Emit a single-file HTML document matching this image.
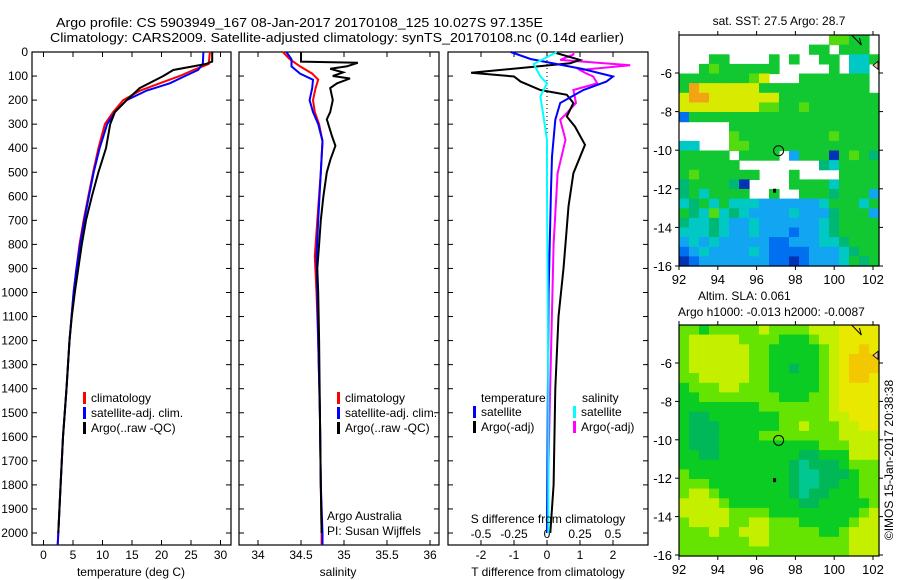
<!DOCTYPE html>
<html><head><meta charset="utf-8"><style>
html,body{margin:0;padding:0;background:#fff;}
svg{display:block;font-family:"Liberation Sans",sans-serif;}
text{font-size:12px;fill:#000;}
</style></head><body>
<svg id="c" width="900" height="580" viewBox="0 0 900 580">
<text x="56" y="27" textLength="487" lengthAdjust="spacingAndGlyphs" style="font-size:13px">Argo profile: CS 5903949_167 08-Jan-2017 20170108_125 10.027S 97.135E</text>
<text x="50" y="42" textLength="574" lengthAdjust="spacingAndGlyphs" style="font-size:13px">Climatology: CARS2009. Satellite-adjusted climatology: synTS_20170108.nc (0.14d earlier)</text>
<g id="g"></g>
</svg>
<script>
// ---- data ----
const depthTicks=[0,100,200,300,400,500,600,700,800,900,1000,1100,1200,1300,1400,1500,1600,1700,1800,1900,2000];
const tempTicks=[0,5,10,15,20,25,30];
const salTicks=[34,34.5,35,35.5,36];
const tdTicks=[-2,-1,0,1,2];
const sdTicks=[-0.5,-0.25,0,0.25,0.5];
const lonTicks=[92,94,96,98,100,102];
const latTicks=[-6,-8,-10,-12,-14,-16];

const argoDepth=[0,40,50,75,100,150,200,250,300,400,500,600,700,800,900,1000,1100,1200,1400,1600,1800,2000];
const argoTemp=[28.6,28.6,27.5,22,20.3,16.3,14.1,12.1,11.3,10.6,9.3,8.2,7.2,6.5,5.9,5.3,4.8,4.4,3.9,3.3,2.9,2.5];
const climDepth=[0,50,75,100,130,160,200,250,300,400,500,600,700,800,900,1000,1200,1400,1600,1800,2000,2050];
const climTemp=[28.2,28,25.4,23.1,19.7,16.4,13.5,11.8,10.4,9.3,8.4,7.6,6.8,6.1,5.6,5.1,4.4,3.9,3.3,2.9,2.5,2.4];
const satTemp=[27.1,27,26.2,24,21.4,17.5,14.1,12.1,10.8,9.5,8.5,7.7,6.9,6.2,5.6,5.1,4.4,3.9,3.3,2.9,2.5,2.4];

const argoSalDepth=[0,40,45,60,70,85,100,110,130,150,200,250,280,350,390,450,500,600,700,800,900,1000,1200,1500,1800,2000];
const argoSal=[34.5,34.5,35.16,35.03,34.84,34.99,34.87,35.07,34.92,34.84,34.87,34.84,34.8,34.86,34.9,34.84,34.8,34.76,34.73,34.71,34.69,34.7,34.71,34.72,34.73,34.74];
const climSalDepth=[0,30,60,90,115,150,200,250,300,370,500,700,850,1000,1200,1500,1800,2000,2050];
const climSal=[34.29,34.37,34.49,34.63,34.7,34.67,34.64,34.66,34.71,34.75,34.73,34.69,34.66,34.68,34.7,34.72,34.73,34.74,34.74];
const satSal=[34.33,34.39,34.39,34.49,34.64,34.63,34.6,34.64,34.7,34.75,34.73,34.7,34.68,34.69,34.7,34.72,34.73,34.75,34.75];

const tdDepth=[0,5,33,47,86,102,123,158,178,212,268,310,386,504,642,767,900,1100,1400,1800,2000];
const tdArgo=[0.3,0.3,1.0,0.7,-2.3,-1.0,-0.8,-0.2,0.6,0.8,0.6,0.85,1.15,0.8,0.65,0.58,0.5,0.35,0.25,0.2,0.1];
const tdSatDepth=[0,29,71,102,123,158,212,282,435,573,1000,1500,2000];
const tdSat=[-1.1,-0.5,1.1,2.0,1.8,1.1,0.4,0.25,0.15,0.12,0.05,0.02,0];
const sdSatDepth=[0,50,102,130,185,254,365,600,1000,1500,2000];
const sdSat=[0.075,-0.1,-0.05,0,-0.05,-0.03,0,0,0.005,0.01,0.01];
const sdArgoDepth=[0,11,33,55,75,90,102,130,158,212,254,282,365,504,800,1500,2000];
const sdArgo=[0.2,0.2,0.1,0.63,0.25,0.3,0.35,0.38,0.2,0.22,0.15,0.1,0.14,0.08,0.05,0.02,0];

const sstRows=[
"               GGgg ",
"             gg ggg ",
"   gg    g g  gg ccg",
"  gGgggggg     g cc ",
"gggggggGy   ggggggg ",
"goyyyyyyggggggggggg ",
"yooyyyyyyygggggggggg",
"yyyyyyyyGGggGggggggg",
"Bggggggggggggggggggg",
"     ggggggggggggggg",
"     GgggggggggGgggg",
"cc   GGggggggggggggg",
"ggggg gggg bgggDgGgt",
"gggggg        tcgggg",
"gGgggggg   g    gggg",
"tggggtD    ggggcgggg",
"tgcgggg  g  gggtgggb",
"ctgcgcccbbbbbbcgggcg",
"gtcGctcbbbbcbbbtgggb",
"tcctcbbcbbbbbbctgggg",
"ccctcbbcbbbBbbctgggg",
"bcbcbbbbbBBbbbcctggg",
"BbcbbbbcbBBBBbbbctgg",
"DBbbbbbbbBBDBbbbcgtg"];
const slaRows=[
"GGgGGGGGyGGGGyyyYYYY",
"GyyyyyGGGGgggGyyYYYY",
"GyyyyyyGGgggggGyYYoY",
"GyyyyyyGGgggggGyYooo",
"GyyyyyyGGggtggGyYooo",
"GGyyyyyGGgggggGyYooY",
"gGGGyyGGGgggggGyYYYY",
"ggGGGGGGGGgggGGyYYYY",
"ggggggggGGGGGGGyYYYY",
"gttgggggggGGGGGyyYYY",
"gtttggggggGGyGGGyyYY",
"gtttggggGGGGGGGGyyyy",
"gtttggggggggggGGGyyy",
"ggttggggggggttgggyyy",
"gggggggggggtctttgGGG",
"GggggggggggtcctttgGG",
"GGGggggggggtccttggGG",
"GyyGgggggggtcttgggGG",
"yyyyGgggggggttgggggG",
"yyyyyGGGGgggggggggGy",
"GyyyyGGyyGGGgggggGyy",
"GGGyGGyyyGGGGGggGyyy",
"GGGGGGGyyGGGGGGGGyyy",
"GGGGGGGGGGGGGGGGGyyy"];
const sstCol={g:"#12c832",G:"#52dc10",y:"#d8ea00",o:"#f2a414",t:"#00b876",c:"#00c8c4",b:"#12a6f2",B:"#0070f0",D:"#0034b4"};
const slaCol={g:"#0acc22",G:"#64e400",y:"#c4f000",Y:"#e8e800",o:"#f2c800",t:"#00b858",c:"#00c890"};

// ---- helpers ----
const NS="http://www.w3.org/2000/svg";
const root=document.getElementById('g');
function mk(tag,at,parent){const e=document.createElementNS(NS,tag);for(const k in at)e.setAttribute(k,at[k]);(parent||root).appendChild(e);return e;}
function txt(x,y,s,anchor,extra){const e=mk('text',Object.assign({x:x,y:y,'text-anchor':anchor||'start'},extra||{}));e.textContent=s;return e;}

const top0=52, bot=545;
const yD=d=>top0+d*0.2405;
const P1={l:32,r:231}, P2={l:239,r:439}, P3={l:448,r:648};
const xT=t=>43.5+t*5.9;
const xS=s=>258+(s-34)*86;
const xTd=v=>547+v*33;
const xSd=v=>547+v*132;

function frame(P,name){
  const r=mk('rect',{x:P.l,y:top0,width:P.r-P.l,height:bot-top0,fill:'none',stroke:'#000','stroke-width':1.2});
  
  
  depthTicks.forEach(d=>{
    mk('line',{x1:P.l,x2:P.l+5,y1:yD(d),y2:yD(d),stroke:'#000'});
    mk('line',{x1:P.r,x2:P.r-5,y1:yD(d),y2:yD(d),stroke:'#000'});
  });
}
function xticks(ticks,fx,labels,y){
  ticks.forEach((t,i)=>{
    const x=fx(t);
    mk('line',{x1:x,x2:x,y1:bot,y2:bot-5,stroke:'#000'});
    mk('line',{x1:x,x2:x,y1:top0,y2:top0+5,stroke:'#000'});
    const e=txt(x,y,labels[i],'middle');
    
    
  });
}
function line(ds,vs,fx,color,name,w){
  const pts=ds.map((d,i)=>fx(vs[i]).toFixed(1)+','+yD(d).toFixed(1)).join(' ');
  const e=mk('polyline',{points:pts,fill:'none',stroke:color,'stroke-width':w||2,'stroke-linejoin':'miter'});
  
  
}

// depth labels
depthTicks.forEach(d=>{const e=txt(28,yD(d)+4,String(d),'end');
  
  });

// panel 1
frame(P1,'temperature-panel');
xticks(tempTicks,xT,tempTicks.map(String),559);
line(climDepth,climTemp,xT,'#f00','temp-climatology-line');
line(climDepth,satTemp,xT,'#00f','temp-satellite-line');
line(argoDepth,argoTemp,xT,'#000','temp-argo-line');
txt(131,576,'temperature (deg C)','middle');

// panel 2
frame(P2,'salinity-panel');
xticks(salTicks,xS,['34','34.5','35','35.5','36'],559);
line(climSalDepth,climSal,xS,'#f00','sal-climatology-line');
line(climSalDepth,satSal,xS,'#00f','sal-satellite-line');
line(argoSalDepth,argoSal,xS,'#000','sal-argo-line');
txt(338,576,'salinity','middle');
txt(327,520,'Argo Australia');
txt(327,535,'PI: Susan Wijffels');

// panel 3
frame(P3,'difference-panel');
xticks(tdTicks,xTd,tdTicks.map(String),559);
sdTicks.forEach(t=>{const e=txt(xSd(t),538,String(t).replace('-0.','-0.'),'middle');
  
  });
mk('line',{x1:547,x2:547,y1:top0,y2:yD(400),stroke:'#000','stroke-dasharray':'1,3'});
line(sdArgoDepth,sdArgo,xSd,'#f0f','s-diff-argo-line');
line(tdDepth,tdArgo,xTd,'#000','t-diff-argo-line');
line(tdSatDepth,tdSat,xTd,'#00f','t-diff-satellite-line');
line(sdSatDepth,sdSat,xSd,'#0ff','s-diff-satellite-line');
txt(548,523,'S difference from climatology','middle');
txt(548,576,'T difference from climatology','middle');

// legends
function leg(x,y,col,label,name){
  mk('rect',{x:x,y:y-10,width:3,height:12,fill:col});
  const e=txt(x+8,y,label);
  
  
}
[[83,'#f00','climatology'],[83,'#00f','satellite-adj. clim.'],[83,'#000','Argo(..raw -QC)']].forEach((a,i)=>leg(a[0],402+i*15,a[1],a[2],'legend-entry'));
[[337,'#f00','climatology'],[337,'#00f','satellite-adj. clim.'],[337,'#000','Argo(..raw -QC)']].forEach((a,i)=>leg(a[0],402+i*15,a[1],a[2],'legend-entry'));
txt(481,402,'temperature');
txt(582,402,'salinity');
leg(473,416,'#00f','satellite','legend-entry');
leg(473,431,'#000','Argo(-adj)','legend-entry');
leg(573,416,'#0ff','satellite','legend-entry');
leg(573,431,'#f0f','Argo(-adj)','legend-entry');

// maps
function map(M,rows,cols,name,title){
  const lon=v=>M.l+(v-92)*(M.x102-M.l)/10;
  const lat=v=>M.y6+(-6-v)*(M.y16-M.y6)/10;
  const g=mk('g',{});
  
  
  const cw=(M.r-M.l)/20, rh=(M.b-M.t)/rows.length;
  rows.forEach((row,ri)=>{
    for(let ci=0;ci<20;ci++){
      const ch=row[ci]||' ';
      if(ch===' '||!cols[ch])continue;
      const c=mk('rect',{x:(M.l+ci*cw).toFixed(1),y:(M.t+ri*rh).toFixed(1),width:(cw+0.6).toFixed(1),height:(rh+0.6).toFixed(1),fill:cols[ch]},g);
      
      
    }
  });
  mk('rect',{x:M.l,y:M.t,width:M.r-M.l,height:M.b-M.t,fill:'none',stroke:'#000','stroke-width':1.2});
  lonTicks.forEach(v=>{const x=lon(v);
    mk('line',{x1:x,x2:x,y1:M.b,y2:M.b+4,stroke:'#000'});
    mk('line',{x1:x,x2:x,y1:M.t,y2:M.t-4,stroke:'#000'});
    const e=txt(x,M.b+18,String(v),'middle',{style:'font-size:13px'});
    
    });
  latTicks.forEach(v=>{const y=lat(v);
    mk('line',{x1:M.l,x2:M.l-4,y1:y,y2:y,stroke:'#000'});
    mk('line',{x1:M.r,x2:M.r+4,y1:y,y2:y,stroke:'#000'});
    const e=txt(M.l-7,y+5,String(v),'end',{style:'font-size:13px'});
    
    });
  const cc=mk('circle',{cx:lon(97.135),cy:lat(-10.027),r:5,fill:'none',stroke:'#000','stroke-width':1});
  
  
  mk('rect',{x:lon(96.85),y:lat(-12.1)-2,width:3,height:4,fill:'#000'});
  mk('path',{d:`M${lon(100.9)} ${M.t} L${lon(101.4)} ${M.t+10} L${lon(101.3)} ${M.t+3}`,fill:'none',stroke:'#000'});
  mk('path',{d:`M${M.r-6} ${lat(-5.6)} l5 -4 l0 8 z`,fill:'#f8c0a0',stroke:'#000','stroke-width':0.8});
  txt((M.l+M.r)/2,M.t-10,title,'middle');
}
map({l:679,r:879,t:35,b:266,x102:873,y6:73,y16:266},sstRows,sstCol,'sst-map','sat. SST: 27.5 Argo: 28.7');
map({l:679,r:879,t:325,b:556,x102:873,y6:363,y16:555},slaRows,slaCol,'sla-map','');
txt(698,300,'Altim. SLA: 0.061');
txt(678,316,'Argo h1000: -0.013 h2000: -0.0087');
const cr=txt(0,0,'©IMOS 15-Jan-2017 20:38:38','middle',{transform:'translate(893,460) rotate(-90)'});


</script>
</body></html>
